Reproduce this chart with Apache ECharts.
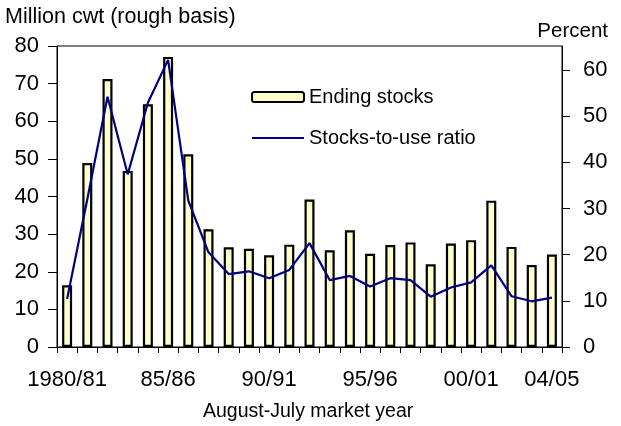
<!DOCTYPE html>
<html>
<head>
<meta charset="utf-8">
<script src="https://cdn.jsdelivr.net/npm/echarts@6/dist/echarts.min.js"></script>
<style>
html,body{margin:0;padding:0;background:#fff;}
#c{width:621px;height:426px;}
</style>
</head>
<body>
<div id="c"></div>
<script>
const categories = ['1980/81','81/82','82/83','83/84','84/85','85/86','86/87','87/88','88/89','89/90',
  '90/91','91/92','92/93','93/94','94/95','95/96','96/97','97/98','98/99','99/00',
  '00/01','01/02','02/03','03/04','04/05'];
const labelIndices = [0,5,10,15,20,24];
const endingStocks = [16.4,48.9,71.2,46.8,64.5,77.1,51.2,31.3,26.5,26.1,24.4,27.2,39.2,25.7,31.0,24.8,27.1,27.8,22.0,27.5,28.4,38.9,26.6,21.8,24.6];
const stocksToUse = [10.4,32.0,54.2,37.4,52.9,62.2,31.7,20.5,15.8,16.4,14.9,16.7,22.5,14.5,15.4,13.1,14.9,14.5,10.9,12.9,14.0,17.7,11.0,9.9,10.7];
const leftTicks = [0,10,20,30,40,50,60,70,80];
const rightTicks = [0,10,20,30,40,50,60];

const FONT = 'Liberation Sans, Arial, sans-serif';
const chart = echarts.init(document.getElementById('c'));
chart.setOption({
  animation: false,
  backgroundColor: '#fff',
  textStyle: {fontFamily: FONT, color: '#000'},
  title: [
    {text: 'Million cwt (rough basis)', left: 5, top: 6, padding: 0, textStyle: {fontFamily: FONT, fontSize: 21.5, fontWeight: 'normal', color: '#000'}},
    {text: 'Percent', right: 13, top: 21, padding: 0, textStyle: {fontFamily: FONT, fontSize: 20.5, fontWeight: 'normal', color: '#000'}},
    {text: 'August-July market year', left: 203, top: 402, padding: 0, textStyle: {fontFamily: FONT, fontSize: 19.5, fontWeight: 'normal', color: '#000'}}
  ],
  legend: {
    orient: 'vertical', left: 251, top: 87, padding: 0,
    itemWidth: 52, itemHeight: 10, itemGap: 21,
    textStyle: {fontFamily: FONT, fontSize: 20, color: '#000', lineHeight: 20},
    data: [
      {name: 'Ending stocks'},
      {name: 'Stocks-to-use ratio', icon: 'path://M0,0H52V2H0Z'}
    ]
  },
  grid: {left: 57, right: 59, top: 46, bottom: 79, show: true, borderColor: '#000', borderWidth: 1, backgroundColor: 'transparent'},
  xAxis: {
    type: 'category', data: categories, boundaryGap: true,
    axisLine: {lineStyle: {color: '#000', width: 1}},
    axisTick: {show: true, interval: 0, length: 6, lineStyle: {color: '#000'}},
    axisLabel: {
      interval: function (i) { return labelIndices.indexOf(i) >= 0; },
      fontFamily: FONT, fontSize: 22, color: '#000', margin: 22
    },
    splitLine: {show: false}
  },
  yAxis: [
    {
      type: 'value', min: 0, max: 80, interval: 10, position: 'left',
      axisLine: {show: true, lineStyle: {color: '#000', width: 1}},
      axisTick: {show: true, length: 9, lineStyle: {color: '#000'}},
      axisLabel: {fontFamily: FONT, fontSize: 22, color: '#000', margin: 18},
      splitLine: {show: false}
    },
    {
      type: 'value', min: 0, max: 65.2, position: 'right',
      axisLine: {show: true, lineStyle: {color: '#000', width: 1}},
      axisTick: {show: true, length: 8, customValues: rightTicks, lineStyle: {color: '#000'}},
      axisLabel: {customValues: rightTicks, fontFamily: FONT, fontSize: 22, color: '#000', margin: 21},
      splitLine: {show: false}
    }
  ],
  series: [
    {
      name: 'Ending stocks', type: 'bar', data: endingStocks, barWidth: 10, yAxisIndex: 0,
      itemStyle: {color: '#FFFFCC', borderColor: '#000', borderWidth: 2.2}
    },
    {
      name: 'Stocks-to-use ratio', type: 'line', data: stocksToUse, yAxisIndex: 1,
      symbol: 'none', z: 5,
      lineStyle: {color: '#000080', width: 2.2}, itemStyle: {color: '#000080'}
    }
  ]
});
</script>
</body>
</html>
